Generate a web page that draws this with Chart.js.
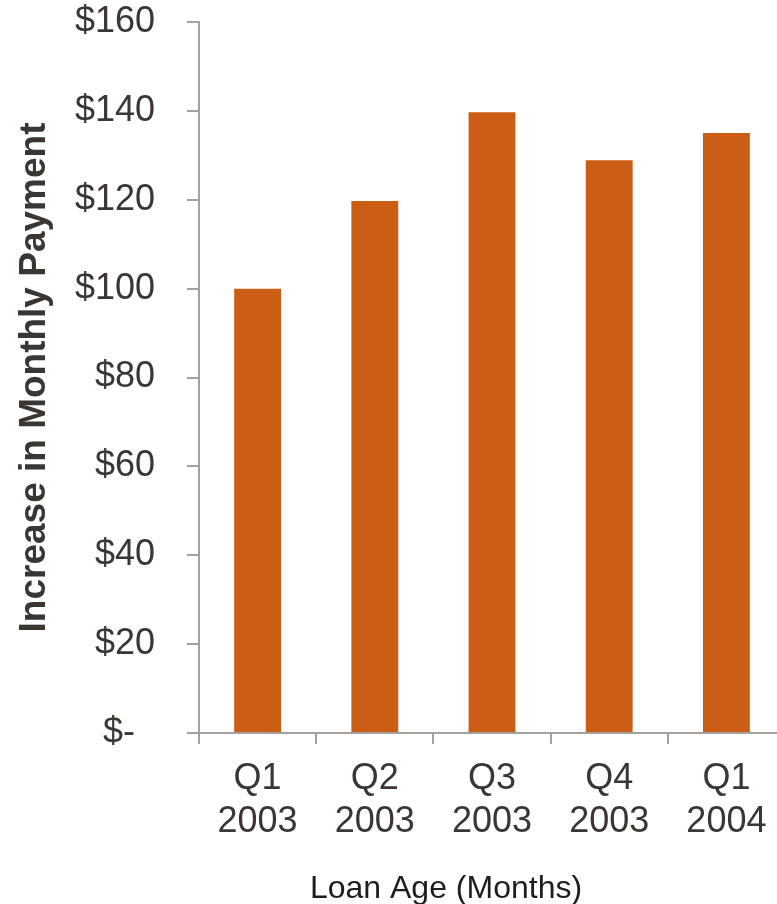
<!DOCTYPE html>
<html>
<head>
<meta charset="utf-8">
<script src="https://cdn.jsdelivr.net/npm/chart.js@4/dist/chart.umd.min.js"></script>
<style>
  html, body { margin: 0; padding: 0; background: #fff; overflow: hidden; }
  #wrap { width: 777px; height: 904px; overflow: hidden; position: relative; }
  #box { width: 790px; height: 904px; position: absolute; left: 0; top: 0; }
</style>
</head>
<body>
<div id="wrap"><div id="box"><canvas id="c"></canvas></div></div>
<script>
// Quarter of origination and the average rise in monthly payment
const categories = [['Q1', '2003'], ['Q2', '2003'], ['Q3', '2003'], ['Q4', '2003'], ['Q1', '2004']];
const paymentIncrease = [100, 119.7, 139.7, 128.9, 135];
const yTickValues = [0, 20, 40, 60, 80, 100, 120, 140, 160];
const yTickLabels = ['$-  ', '$20', '$40', '$60', '$80', '$100', '$120', '$140', '$160'];
const yAxisTitle = 'Increase in Monthly Payment';
const xAxisTitle = 'Loan Age (Months)';

const axisGray = '#a6a19d';
const textDark = '#3b3632';

// Horizontal axis caption, placed under the tick labels
const xCaption = {
  id: 'xCaption',
  afterDraw(chart) {
    const ctx = chart.ctx;
    ctx.save();
    ctx.font = '32px "Liberation Sans", Arial, sans-serif';
    ctx.fillStyle = '#1e1e1e';
    ctx.textAlign = 'center';
    ctx.textBaseline = 'alphabetic';
    ctx.fillText(xAxisTitle, 446, 898);
    ctx.restore();
  }
};

new Chart(document.getElementById('c'), {
  type: 'bar',
  data: {
    labels: categories,
    datasets: [{
      data: paymentIncrease,
      backgroundColor: '#cb5e14',
      borderWidth: 0,
      barPercentage: 0.4,
      categoryPercentage: 1.0
    }]
  },
  options: {
    responsive: true,
    maintainAspectRatio: false,
    animation: false,
    layout: { padding: { top: 22, right: 5, bottom: 0, left: 0 } },
    plugins: { legend: { display: false }, tooltip: { enabled: false } },
    scales: {
      x: {
        offset: true,
        grid: {
          offset: true,
          drawOnChartArea: false,
          drawTicks: true,
          tickLength: 11,
          color: axisGray,
          lineWidth: 2
        },
        border: { display: true, color: axisGray, width: 2 },
        ticks: {
          color: textDark,
          padding: 13,
          maxRotation: 0,
          autoSkip: false,
          font: { family: '"Liberation Sans", Arial, sans-serif', size: 36, lineHeight: 1.2 }
        },
        afterFit(scale) {
          scale.height = 171;
          scale.paddingLeft = 0;
          scale.paddingRight = 0;
        }
      },
      y: {
        min: 0,
        max: 160,
        afterBuildTicks(scale) { scale.ticks = yTickValues.map(v => ({ value: v })); },
        grid: {
          drawOnChartArea: false,
          drawTicks: true,
          tickLength: 12,
          color: axisGray,
          lineWidth: 2
        },
        border: { display: true, color: axisGray, width: 2 },
        ticks: {
          color: textDark,
          padding: 32,
          font: { family: '"Liberation Sans", Arial, sans-serif', size: 36, lineHeight: 1.2 },
          callback(value) {
            const i = yTickValues.indexOf(value);
            return i >= 0 ? yTickLabels[i] : '';
          }
        },
        title: {
          display: true,
          text: yAxisTitle,
          color: textDark,
          padding: { top: 13, bottom: 0 },
          font: { family: '"Liberation Sans", Arial, sans-serif', size: 37, weight: 'bold', lineHeight: 1.2 }
        },
        afterFit(scale) {
          scale.width = 199;
          scale.paddingTop = 0;
          scale.paddingBottom = 0;
        }
      }
    }
  },
  plugins: [xCaption]
});
</script>
</body>
</html>
